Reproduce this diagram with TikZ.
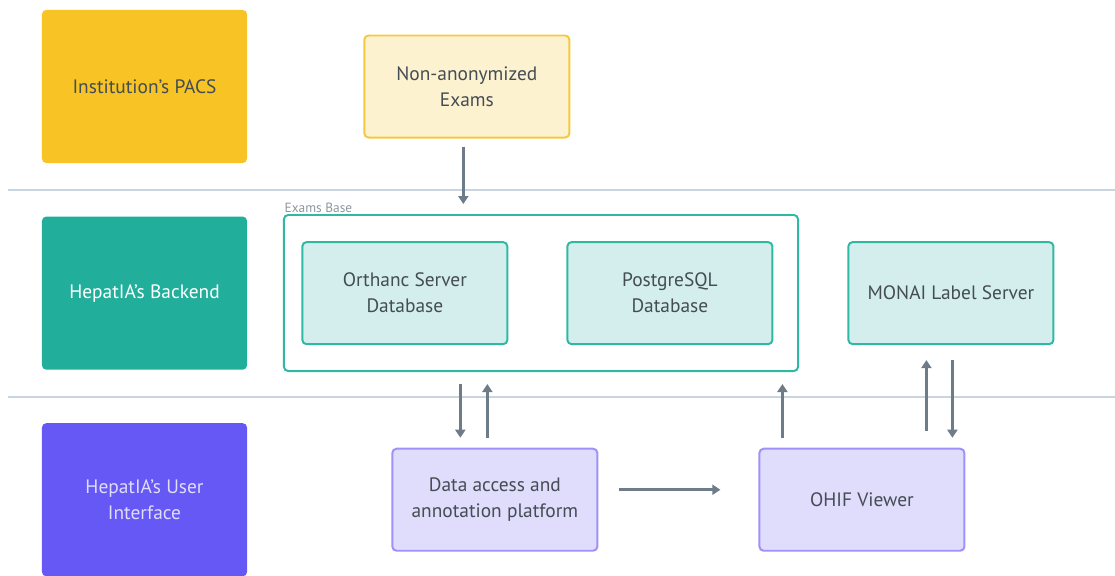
\documentclass[tikz,border=0pt]{standalone}
\usepackage{fontspec}
\setmainfont{PT Sans}
\usetikzlibrary{arrows.meta,positioning,calc}
\definecolor{Ink}{HTML}{444C54}
\definecolor{Arrow}{HTML}{6E7B88}
\definecolor{Rule}{HTML}{C8D4DF}
\definecolor{Gold}{HTML}{F7C325}
\definecolor{SoftGold}{HTML}{FDF2D0}
\definecolor{GoldLine}{HTML}{F5C842}
\definecolor{Teal}{HTML}{21AE9A}
\definecolor{SoftTeal}{HTML}{D3EEEC}
\definecolor{TealLine}{HTML}{2FB8A3}
\definecolor{Violet}{HTML}{6558F5}
\definecolor{SoftViolet}{HTML}{E0DCFC}
\definecolor{VioletLine}{HTML}{9F91F7}
\begin{document}
\begin{tikzpicture}[
  x=0.025cm,y=-0.025cm,
  node distance=1.325cm,
  lane/.style={rounded corners=3pt,minimum width=5.125cm,minimum height=3.825cm,align=center,font=\fontsize{13.8}{18.5}\selectfont},
  comp/.style={rounded corners=3pt,line width=1.4pt,minimum width=5.125cm,minimum height=2.55cm,align=center,text=Ink,font=\fontsize{13.8}{18.5}\selectfont},
  arrow/.style={-{Triangle[length=2mm,width=2.5mm]},line width=2.1pt,draw=Arrow},
  rule/.style={draw=Rule,line width=1.2pt}
]
\useasboundingbox (0,0) rectangle (1115,575);
% lanes
\node[lane,fill=Gold,text=Ink] (pacs) at (144.5,86.5) {Institution's PACS};
\node[lane,fill=Teal,text=white,below=of pacs] (back) {HepatIA's Backend};
\node[lane,fill=Violet,text=SoftViolet,below=of back] (ui) {HepatIA's User\\Interface};
\draw[rule] (8,190) -- (1115,190);
\draw[rule] (8,397) -- (1115,397);
% components
\node[comp,fill=SoftGold,draw=GoldLine,right=2.9cm of pacs] (exams) {Non-anonymized\\Exams};
\node[comp,fill=SoftTeal,draw=TealLine,right=1.35cm of back] (orthanc) {Orthanc Server\\Database};
\node[comp,fill=SoftTeal,draw=TealLine,right=1.45cm of orthanc] (pgsql) {PostgreSQL\\Database};
\node[comp,fill=SoftTeal,draw=TealLine,right=1.85cm of pgsql] (monai) {MONAI Label Server};
\node[rounded corners=3pt,draw=TealLine,line width=1.4pt,minimum width=12.85cm,minimum height=3.9cm,
  label={[anchor=south west,inner sep=1pt,text=Arrow!80,font=\fontsize{9.5}{11}\selectfont]north west:Exams Base}] (base) at (541,293) {};
\node[comp,fill=SoftViolet,draw=VioletLine,right=3.6cm of ui] (platform) {Data access and\\annotation platform};
\node[comp,fill=SoftViolet,draw=VioletLine,right=4.0cm of platform] (ohif) {OHIF Viewer};
% flows
\draw[arrow] ($(exams.south)+(-3.5,8)$) -- ($(exams.south |- base.north)+(-3.5,-10)$);
\draw[arrow] ($(platform.north |- base.south)+(-34.5,12)$) -- ($(platform.north)+(-34.5,-10)$);
\draw[arrow] ($(platform.north)+(-7.5,-10)$) -- ($(platform.north |- base.south)+(-7.5,12)$);
\draw[arrow] ($(ohif.north)+(-79.5,-10)$) -- ($(ohif.north |- base.south)+(-79.5,12)$);
\draw[arrow] ($(platform.east)+(21,-10)$) -- ($(ohif.west)+(-38,-10)$);
\draw[arrow] ($(ohif.north)+(64.5,-17)$) -- ($(ohif.north |- monai.south)+(64.5,15)$);
\draw[arrow] ($(ohif.north |- monai.south)+(90.5,15)$) -- ($(ohif.north)+(90.5,-10)$);
\end{tikzpicture}
\end{document}
